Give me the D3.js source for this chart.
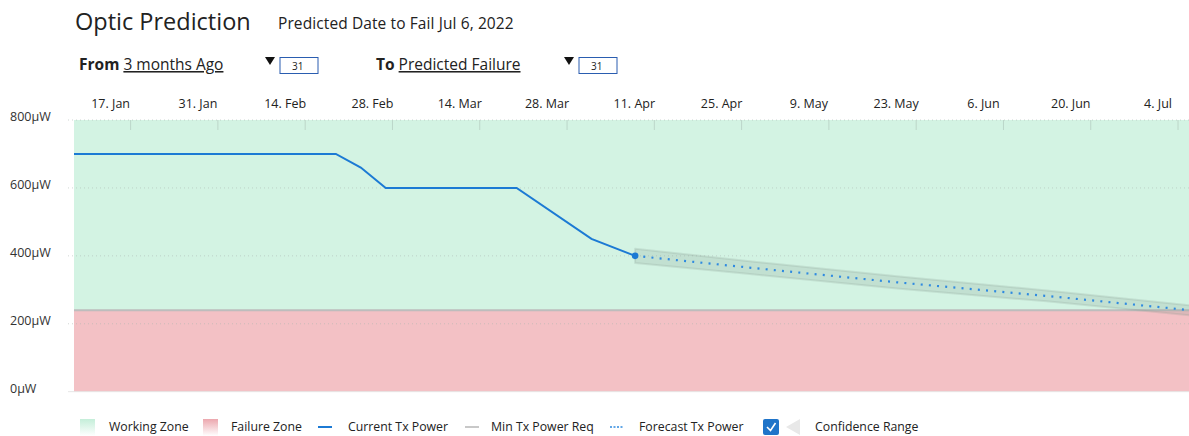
<!DOCTYPE html>
<html>
<head>
<meta charset="utf-8">
<script src="https://cdn.jsdelivr.net/npm/d3@7"></script>
<style>
  body { margin: 0; background: #fff; font-family: "Open Sans", sans-serif; }
  svg text { font-family: "Open Sans", sans-serif; fill: #222; }
</style>
</head>
<body>
<div id="chart"></div>
<script>
// region Data
const actualDates = ['2022-01-08', '2022-02-19', '2022-02-23', '2022-02-27', '2022-03-20', '2022-04-01', '2022-04-08'];
const actualValues = [700, 700, 660, 600, 600, 450, 400];

const forecastDates = ['2022-04-08', '2022-04-26', '2022-05-20', '2022-06-13', '2022-07-06'];
const forecastValues = [400, 366, 322, 282, 240];
const forecastUpper = [421, 385, 340, 298, 254];
const forecastLower = [379, 347, 304, 266, 225];

const minTxPower = 240;

const tickDates = ['2022-01-17', '2022-01-31', '2022-02-14', '2022-02-28', '2022-03-14', '2022-03-28',
    '2022-04-11', '2022-04-25', '2022-05-09', '2022-05-23', '2022-06-06', '2022-06-20', '2022-07-04'];
const tickLabels = ['17. Jan', '31. Jan', '14. Feb', '28. Feb', '14. Mar', '28. Mar',
    '11. Apr', '25. Apr', '9. May', '23. May', '6. Jun', '20. Jun', '4. Jul'];
const yTicks = [0, 200, 400, 600, 800];
const legendItems = ['Working Zone', 'Failure Zone', 'Current Tx Power', 'Min Tx Power Req', 'Forecast Tx Power', 'Confidence Range'];
// endregion

const parse = d3.timeParse('%Y-%m-%d');
const actual = actualDates.map((d, i) => ({date: parse(d), value: actualValues[i]}));
const forecast = forecastDates.map((d, i) => ({
    date: parse(d), value: forecastValues[i], hi: forecastUpper[i], lo: forecastLower[i]
}));

let W = 1189, H = 436;
let green = '#d3f3e3',
    red = '#f3c1c5',
    blue = '#1c7ad4';

const svg = d3.select('#chart').append('svg').attr('width', W).attr('height', H);

// header
svg.append('text').attr('x', 75).attr('y', 30).style('font-size', '23.5px').text('Optic Prediction');
svg.append('text').attr('x', 278).attr('y', 29).style('font-size', '15.5px').style('letter-spacing', '0.1px')
    .text('Predicted Date to Fail Jul 6, 2022');

function control(x, bold, link, triX) {
    let g = svg.append('g');
    let t = g.append('text').attr('x', x).attr('y', 70).style('font-size', '15.5px');
    t.append('tspan').style('font-weight', 'bold').text(bold + ' ');
    t.append('tspan').style('text-decoration', 'underline').text(link);
    g.append('path').attr('d', `M${triX - 5},57 L${triX + 5},57 L${triX},65 Z`).attr('fill', '#111');
    g.append('rect').attr('x', triX + 10).attr('y', 57.5).attr('width', 38).attr('height', 16)
        .attr('fill', '#fff').attr('stroke', '#2a5db0').attr('stroke-width', 1);
    g.append('text').attr('x', triX + 22).attr('y', 69.5).style('font-size', '10px').text('31');
}
control(79, 'From', '3 months Ago', 270);
control(376, 'To', 'Predicted Failure', 569);

// scales
const x = d3.scaleTime()
    .domain([parse('2022-01-08'), parse('2022-07-06')])
    .range([74, 1190]);
const y = d3.scaleLinear().domain([0, 800]).range([391.7, 120]);

// zones
svg.append('rect').attr('x', x.range()[0]).attr('width', x.range()[1] - x.range()[0])
    .attr('y', y(800)).attr('height', y(minTxPower) - y(800)).attr('fill', green);
svg.append('rect').attr('x', x.range()[0]).attr('width', x.range()[1] - x.range()[0])
    .attr('y', y(minTxPower)).attr('height', y(0) - y(minTxPower)).attr('fill', red);

// horizontal grid
svg.append('g').selectAll('line').data(yTicks.slice(1)).enter().append('line')
    .attr('x1', 68).attr('x2', 1190)
    .attr('y1', d => y(d)).attr('y2', d => y(d))
    .attr('stroke', 'rgba(170,180,175,0.55)').attr('stroke-dasharray', '1,3');
svg.append('line').attr('x1', 68).attr('x2', 1190).attr('y1', y(0)).attr('y2', y(0))
    .attr('stroke', '#e6e6e6').attr('stroke-width', 1);

// y labels
svg.append('g').selectAll('text').data(yTicks).enter().append('text')
    .attr('x', 10).attr('y', d => y(d) - 3).attr('dy', '0.35em')
    .style('font-size', '12.5px').style('fill', '#333')
    .text(d => d + 'µW');

// top axis
const xAxis = svg.append('g').attr('transform', `translate(0,${y(800)})`)
    .call(d3.axisTop(x)
        .tickValues(tickDates.map(parse))
        .tickFormat((d, i) => tickLabels[i])
        .tickSizeInner(-10).tickSizeOuter(0).tickPadding(12));
xAxis.select('.domain').remove();
xAxis.selectAll('.tick line').attr('stroke', '#bcd6c9');
xAxis.selectAll('.tick text').attr('dx', -20).style('font-size', '12.5px').style('font-family', '"Open Sans", sans-serif').attr('fill', '#222');

// threshold line
svg.append('line').attr('x1', x.range()[0]).attr('x2', x.range()[1])
    .attr('y1', y(minTxPower)).attr('y2', y(minTxPower))
    .attr('stroke', '#bdbdbd').attr('stroke-width', 2);

// confidence band
const band = d3.area().x(d => x(d.date)).y0(d => y(d.lo)).y1(d => y(d.hi));
svg.append('path').datum(forecast).attr('d', band)
    .attr('fill', 'rgba(130,150,140,0.2)')
    .attr('stroke', 'rgba(130,150,140,0.2)').attr('stroke-width', 2).attr('stroke-linejoin', 'round');

// forecast line
const line = d3.line().x(d => x(d.date)).y(d => y(d.value));
svg.append('path').datum(forecast).attr('d', line)
    .attr('fill', 'none').attr('stroke', '#2f8ae0').attr('stroke-width', 2.2)
    .attr('stroke-dasharray', '2,6.2');

// current line
svg.append('path').datum(actual).attr('d', line)
    .attr('fill', 'none').attr('stroke', blue).attr('stroke-width', 2);
let last = actual[actual.length - 1];
svg.append('circle').attr('cx', x(last.date)).attr('cy', y(last.value)).attr('r', 3.3).attr('fill', blue);

// legend
const defs = svg.append('defs');
function grad(id, c) {
    let g = defs.append('linearGradient').attr('id', id).attr('x1', 0).attr('x2', 0).attr('y1', 0).attr('y2', 1);
    g.append('stop').attr('offset', '0%').attr('stop-color', c);
    g.append('stop').attr('offset', '100%').attr('stop-color', '#fff');
}
grad('gGreen', '#c4eed9');
grad('gRed', '#eca7ae');

let ly = 427;
const lg = svg.append('g');
lg.append('rect').attr('x', 80).attr('y', ly - 8).attr('width', 15).attr('height', 17).attr('fill', 'url(#gGreen)');
lg.append('text').attr('x', 109).attr('y', ly).attr('dy', '0.35em').text(legendItems[0]);
lg.append('rect').attr('x', 203).attr('y', ly - 8).attr('width', 15).attr('height', 17).attr('fill', 'url(#gRed)');
lg.append('text').attr('x', 231).attr('y', ly).attr('dy', '0.35em').text(legendItems[1]);
lg.append('line').attr('x1', 318).attr('x2', 332).attr('y1', ly).attr('y2', ly).attr('stroke', blue).attr('stroke-width', 2);
lg.append('text').attr('x', 348).attr('y', ly).attr('dy', '0.35em').text(legendItems[2]);
lg.append('line').attr('x1', 465).attr('x2', 479).attr('y1', ly).attr('y2', ly).attr('stroke', '#c8c8c8').attr('stroke-width', 2);
lg.append('text').attr('x', 491).attr('y', ly).attr('dy', '0.35em').text(legendItems[3]);
lg.append('line').attr('x1', 610).attr('x2', 624).attr('y1', ly).attr('y2', ly).attr('stroke', '#2f8ae0').attr('stroke-width', 1.5).attr('stroke-dasharray', '2,1.5');
lg.append('text').attr('x', 639).attr('y', ly).attr('dy', '0.35em').text(legendItems[4]);
lg.append('rect').attr('x', 763).attr('y', ly - 8).attr('width', 16).attr('height', 16).attr('rx', 2).attr('fill', '#1f74c9');
lg.append('path').attr('d', `M767,${ly} L770.5,${ly + 3.5} L775.5,${ly - 4}`).attr('fill', 'none').attr('stroke', '#fff').attr('stroke-width', 1.6);
lg.append('path').attr('d', `M786,${ly} L800,${ly - 8} L800,${ly + 8} Z`).attr('fill', '#e8e8e8');
lg.append('text').attr('x', 815).attr('y', ly).attr('dy', '0.35em').text(legendItems[5]);
lg.selectAll('text').style('font-size', '12.3px').attr('fill', '#333');
</script>
</body>
</html>
